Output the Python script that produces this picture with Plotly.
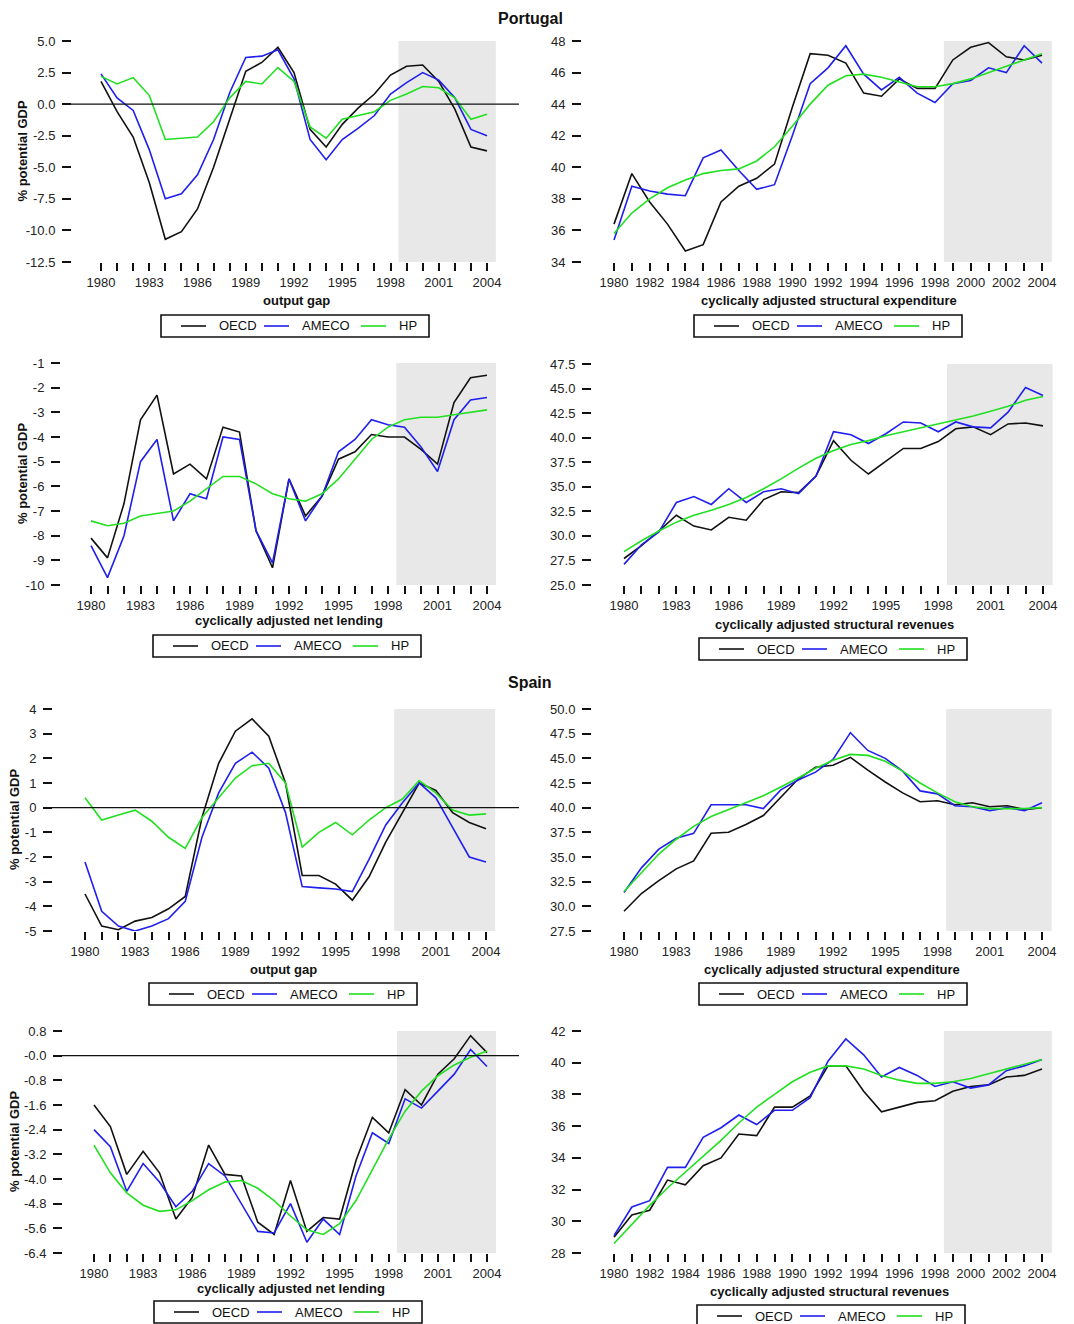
import plotly.graph_objects as go

W, H = 1074, 1324
OFF = 8  # page body margin in the browser

years = list(range(1980, 2005))

# Portugal
pt_gap_oecd = [1.8, -0.6, -2.6, -6.2, -10.7, -10.1, -8.3, -5.0, -1.2, 2.6, 3.3, 4.5, 2.5,
               -2.0, -3.4, -1.6, -0.3, 0.8, 2.3, 3.0, 3.1, 1.8, -0.4, -3.4, -3.7]
pt_gap_ameco = [2.4, 0.5, -0.5, -3.6, -7.5, -7.1, -5.6, -2.8, 0.9, 3.7, 3.8, 4.3, 2.0,
                -2.8, -4.4, -2.8, -1.9, -0.9, 0.8, 1.7, 2.5, 1.9, 0.5, -2.0, -2.5]
pt_gap_hp = [2.2, 1.6, 2.1, 0.7, -2.8, -2.7, -2.6, -1.4, 0.5, 1.8, 1.6, 2.9, 1.8,
             -1.8, -2.7, -1.2, -0.9, -0.6, 0.3, 0.8, 1.4, 1.3, 0.5, -1.2, -0.8]

pt_exp_oecd = [36.4, 39.6, 37.8, 36.4, 34.7, 35.1, 37.8, 38.8, 39.3, 40.2, 43.8, 47.2, 47.1,
               46.6, 44.7, 44.5, 45.6, 45.0, 45.0, 46.8, 47.6, 47.9, 47.0, 46.8, 47.1]
pt_exp_ameco = [35.4, 38.8, 38.5, 38.3, 38.2, 40.6, 41.1, 39.8, 38.6, 38.9, 42.0, 45.3, 46.3,
                47.7, 45.9, 44.9, 45.7, 44.7, 44.1, 45.3, 45.5, 46.3, 46.0, 47.7, 46.6]
pt_exp_hp = [35.8, 37.1, 38.0, 38.7, 39.2, 39.6, 39.8, 39.9, 40.4, 41.3, 42.6, 44.0, 45.2,
             45.8, 45.9, 45.7, 45.4, 45.1, 45.1, 45.3, 45.6, 46.0, 46.4, 46.8, 47.2]

pt_lend_oecd = [-8.1, -8.9, -6.7, -3.3, -2.3, -5.5, -5.1, -5.7, -3.6, -3.8, -7.8, -9.3, -5.7,
                -7.2, -6.4, -4.9, -4.6, -3.9, -4.0, -4.0, -4.5, -5.1, -2.6, -1.6, -1.5]
pt_lend_ameco = [-8.4, -9.7, -8.0, -5.0, -4.1, -7.4, -6.3, -6.5, -4.0, -4.1, -7.8, -9.1, -5.7,
                 -7.4, -6.4, -4.6, -4.1, -3.3, -3.5, -3.6, -4.4, -5.4, -3.3, -2.5, -2.4]
pt_lend_hp = [-7.4, -7.6, -7.5, -7.2, -7.1, -7.0, -6.6, -6.1, -5.6, -5.6, -5.9, -6.3, -6.5,
              -6.6, -6.3, -5.7, -4.9, -4.1, -3.6, -3.3, -3.2, -3.2, -3.1, -3.0, -2.9]

pt_rev_oecd = [27.7, 29.0, 30.5, 32.1, 31.0, 30.6, 31.9, 31.6, 33.7, 34.5, 34.4, 36.1, 39.7,
               37.7, 36.3, 37.6, 38.9, 38.9, 39.6, 40.9, 41.1, 40.3, 41.4, 41.5, 41.2]
pt_rev_ameco = [27.1, 29.1, 30.4, 33.4, 34.0, 33.2, 34.8, 33.4, 34.5, 34.8, 34.3, 36.1, 40.6,
                40.3, 39.4, 40.4, 41.6, 41.5, 40.6, 41.6, 41.1, 41.0, 42.6, 45.1, 44.3]
pt_rev_hp = [28.4, 29.5, 30.5, 31.4, 32.1, 32.6, 33.2, 33.9, 34.8, 35.8, 36.9, 37.9, 38.7,
             39.3, 39.7, 40.2, 40.6, 41.0, 41.4, 41.8, 42.2, 42.7, 43.2, 43.8, 44.2]

# Spain
es_gap_oecd = [-3.5, -4.8, -4.95, -4.6, -4.45, -4.1, -3.6, -0.4, 1.8, 3.1, 3.6, 2.9, 1.0,
               -2.75, -2.75, -3.1, -3.75, -2.8, -1.4, -0.2, 1.0, 0.7, -0.2, -0.6, -0.85]
es_gap_ameco = [-2.2, -4.2, -4.8, -5.0, -4.8, -4.5, -3.8, -1.2, 0.6, 1.8, 2.25, 1.6, -0.2,
                -3.2, -3.25, -3.3, -3.4, -2.1, -0.7, 0.2, 1.0, 0.4, -0.8, -2.0, -2.2]
es_gap_hp = [0.4, -0.5, -0.3, -0.1, -0.55, -1.2, -1.65, -0.4, 0.4, 1.2, 1.7, 1.8, 1.0,
             -1.6, -1.0, -0.6, -1.1, -0.5, 0.0, 0.35, 1.1, 0.6, -0.1, -0.3, -0.25]

es_exp_oecd = [29.5, 31.3, 32.6, 33.8, 34.6, 37.4, 37.5, 38.3, 39.2, 41.0, 42.9, 44.1, 44.3,
               45.1, 43.8, 42.6, 41.5, 40.6, 40.7, 40.3, 40.5, 40.1, 40.2, 39.8, 40.0]
es_exp_ameco = [31.4, 33.9, 35.8, 36.9, 37.4, 40.3, 40.3, 40.3, 39.9, 41.8, 42.8, 43.6, 44.9,
                47.6, 45.8, 45.0, 43.7, 41.7, 41.4, 40.2, 40.1, 39.7, 40.0, 39.7, 40.5]
es_exp_hp = [31.5, 33.4, 35.3, 36.8, 38.1, 39.1, 39.8, 40.5, 41.2, 42.1, 43.0, 44.0, 44.8,
             45.4, 45.3, 44.7, 43.7, 42.5, 41.5, 40.6, 40.1, 39.9, 39.9, 39.9, 40.0]

es_lend_oecd = [-1.6, -2.3, -3.85, -3.1, -3.8, -5.3, -4.6, -2.9, -3.85, -3.9, -5.4, -5.8, -4.05,
                -5.7, -5.25, -5.3, -3.4, -2.0, -2.5, -1.1, -1.6, -0.6, -0.1, 0.65, 0.1]
es_lend_ameco = [-2.4, -2.95, -4.4, -3.5, -4.1, -4.9, -4.4, -3.5, -3.9, -4.8, -5.7, -5.75, -4.8,
                 -6.05, -5.3, -5.8, -3.9, -2.5, -2.85, -1.4, -1.7, -1.15, -0.6, 0.2, -0.35]
es_lend_hp = [-2.9, -3.8, -4.45, -4.85, -5.05, -5.0, -4.7, -4.35, -4.1, -4.05, -4.3, -4.7, -5.2,
              -5.65, -5.8, -5.45, -4.7, -3.7, -2.7, -1.8, -1.15, -0.65, -0.3, -0.05, 0.15]

es_rev_oecd = [29.0, 30.4, 30.7, 32.6, 32.3, 33.5, 34.0, 35.5, 35.4, 37.2, 37.2, 37.9, 39.8,
               39.8, 38.2, 36.9, 37.2, 37.5, 37.6, 38.2, 38.5, 38.6, 39.1, 39.2, 39.6]
es_rev_ameco = [29.1, 30.9, 31.3, 33.4, 33.4, 35.3, 35.9, 36.7, 36.1, 37.0, 37.0, 37.8, 40.1,
                41.5, 40.5, 39.1, 39.7, 39.2, 38.5, 38.8, 38.4, 38.6, 39.5, 39.8, 40.2]
es_rev_hp = [28.6, 29.8, 31.0, 32.1, 33.1, 34.1, 35.1, 36.2, 37.2, 38.0, 38.8, 39.4, 39.8,
             39.8, 39.6, 39.2, 38.9, 38.7, 38.7, 38.8, 39.0, 39.3, 39.6, 39.9, 40.2]

# y tick values / labels
pt_gap_ticks = [-12.5, -10.0, -7.5, -5.0, -2.5, 0.0, 2.5, 5.0]
pt_exp_ticks = [34, 36, 38, 40, 42, 44, 46, 48]
pt_lend_ticks = [-10, -9, -8, -7, -6, -5, -4, -3, -2, -1]
pt_rev_ticks = [25.0, 27.5, 30.0, 32.5, 35.0, 37.5, 40.0, 42.5, 45.0, 47.5]
es_gap_ticks = [-5, -4, -3, -2, -1, 0, 1, 2, 3, 4]
es_exp_ticks = [27.5, 30.0, 32.5, 35.0, 37.5, 40.0, 42.5, 45.0, 47.5, 50.0]
es_lend_ticks = [-6.4, -5.6, -4.8, -4.0, -3.2, -2.4, -1.6, -0.8, 0.0, 0.8]
es_lend_ticktext = ["-6.4", "-5.6", "-4.8", "-4.0", "-3.2", "-2.4", "-1.6", "-0.8", "-0.0", "0.8"]
es_rev_ticks = [28, 30, 32, 34, 36, 38, 40, 42]

series_names = ["OECD", "AMECO", "HP"]
series_colors = ["#111111", "#1f1fee", "#20e020"]

FONT = "Liberation Sans, Arial, sans-serif"


def fx(p):
    return (p - OFF) / W


def fy(p):
    return 1 - (p - OFF) / H


# pixel geometry of each panel: left, right, x(1980), x(2004), top, bottom
panels = [
    dict(data=(pt_gap_oecd, pt_gap_ameco, pt_gap_hp), yr=(-12.5, 5), ticks=pt_gap_ticks, fmt="{:.1f}",
         step=3, xt="output gap", ylab=True, zero=True,
         box=(72, 522, 101, 487, 41, 262), xt_pos=(296, 301), leg=(161, 315)),
    dict(data=(pt_exp_oecd, pt_exp_ameco, pt_exp_hp), yr=(34, 48), ticks=pt_exp_ticks, fmt="{:.0f}",
         step=2, xt="cyclically adjusted structural expenditure", ylab=False, zero=False,
         box=(582, 1058, 614, 1042, 41, 262), xt_pos=(829, 300), leg=(694, 315)),
    dict(data=(pt_lend_oecd, pt_lend_ameco, pt_lend_hp), yr=(-10, -1), ticks=pt_lend_ticks, fmt="{:.0f}",
         step=3, xt="cyclically adjusted net lending", ylab=True, zero=False,
         box=(61, 522, 91, 487, 363, 585), xt_pos=(289, 620), leg=(153, 635)),
    dict(data=(pt_rev_oecd, pt_rev_ameco, pt_rev_hp), yr=(25, 47.5), ticks=pt_rev_ticks, fmt="{:.1f}",
         step=3, xt="cyclically adjusted structural revenues", ylab=False, zero=False,
         box=(592, 1058, 624, 1043, 364, 585), xt_pos=(834, 624), leg=(699, 638)),
    dict(data=(es_gap_oecd, es_gap_ameco, es_gap_hp), yr=(-5, 4), ticks=es_gap_ticks, fmt="{:.0f}",
         step=3, xt="output gap", ylab=True, zero=True,
         box=(53, 522, 85, 486, 709, 931), xt_pos=(283, 969), leg=(149, 983)),
    dict(data=(es_exp_oecd, es_exp_ameco, es_exp_hp), yr=(27.5, 50), ticks=es_exp_ticks, fmt="{:.1f}",
         step=3, xt="cyclically adjusted structural expenditure", ylab=False, zero=False,
         box=(592, 1058, 624, 1042, 709, 931), xt_pos=(832, 969), leg=(699, 983)),
    dict(data=(es_lend_oecd, es_lend_ameco, es_lend_hp), yr=(-6.4, 0.8), ticks=es_lend_ticks,
         text=es_lend_ticktext, step=3, xt="cyclically adjusted net lending", ylab=True, zero=True,
         box=(63, 522, 94, 487, 1031, 1253), xt_pos=(291, 1288), leg=(154, 1301)),
    dict(data=(es_rev_oecd, es_rev_ameco, es_rev_hp), yr=(28, 42), ticks=es_rev_ticks, fmt="{:.0f}",
         step=2, xt="cyclically adjusted structural revenues", ylab=False, zero=False,
         box=(582, 1058, 614, 1042, 1031, 1253), xt_pos=(829, 1291), leg=(697, 1305)),
]

# legend box layout (pixels relative to the box's top-left corner)
LEG_W, LEG_H = 268, 22
LEG_SAMPLE = [20, 103, 200]
LEG_TEXT = [56, 139, 236]
LEG_SAMPLE_LEN = 25

fig = go.Figure()
shapes = []
annotations = []
layout = dict(
    width=W, height=H,
    margin=dict(l=0, r=0, t=0, b=0, autoexpand=False),
    paper_bgcolor="white", plot_bgcolor="white",
    font=dict(family=FONT, size=13, color="#222222"),
    showlegend=False,
)

tick_font = dict(family=FONT, size=13, color="#222222")
label_font = dict(family=FONT, size=13, color="#111111")

for i, p in enumerate(panels, start=1):
    sfx = "" if i == 1 else str(i)
    left, right, x80, x04, top, bot = p["box"]
    ppy = (x04 - x80) / 24.0
    xmin = 1980 - (x80 - left) / ppy
    xmax = 2004 + (right - x04) / ppy

    for name, color, vals in zip(series_names, series_colors, p["data"]):
        fig.add_trace(go.Scatter(
            x=years, y=vals, mode="lines", name=name,
            line=dict(color=color, width=1.6),
            xaxis="x" + sfx, yaxis="y" + sfx,
        ))

    xtext = [str(y) if (y - 1980) % p["step"] == 0 else "" for y in years]
    ytext = p.get("text") or [p["fmt"].format(v) for v in p["ticks"]]

    layout["xaxis" + sfx] = dict(
        domain=[fx(left), min(fx(right), 1)], anchor="y" + sfx, range=[xmin, xmax],
        tickmode="array", tickvals=years, ticktext=xtext,
        ticks="outside", ticklen=8, tickwidth=1.7, tickcolor="#111111",
        showline=False, showgrid=False, zeroline=False, tickfont=tick_font,
    )
    layout["yaxis" + sfx] = dict(
        domain=[fy(bot), fy(top)], anchor="x" + sfx, range=list(p["yr"]),
        tickmode="array", tickvals=p["ticks"], ticktext=ytext,
        ticks="outside", ticklen=9, tickwidth=1.5, tickcolor="#111111",
        showline=False, showgrid=False, zeroline=False, tickfont=tick_font,
        ticklabelstandoff=4,
    )

    # shaded recent period
    shapes.append(dict(
        type="rect", xref="x" + sfx, yref="y" + sfx + " domain",
        x0=1998.5, x1=2004.55, y0=0, y1=1,
        fillcolor="#e8e8e8", line=dict(width=0), layer="below",
    ))
    if p["zero"]:
        shapes.append(dict(
            type="line", xref="paper", yref="y" + sfx,
            x0=fx(left - 9), x1=fx(519), y0=0, y1=0,
            line=dict(color="#111111", width=1.4),
        ))

    annotations.append(dict(
        text="<b>" + p["xt"] + "</b>", xref="paper", yref="paper",
        x=fx(p["xt_pos"][0]), y=fy(p["xt_pos"][1]), xanchor="center", yanchor="middle",
        showarrow=False, font=label_font,
    ))
    if p["ylab"]:
        annotations.append(dict(
            text="<b>% potential GDP</b>", xref="paper", yref="paper",
            x=fx(22 if i < 5 else 14), y=fy((top + bot) / 2), textangle=-90,
            xanchor="center", yanchor="middle", showarrow=False, font=label_font,
        ))

    # boxed legend below the panel
    lx, ly = p["leg"]
    shapes.append(dict(
        type="rect", xref="paper", yref="paper",
        x0=fx(lx), x1=fx(lx + LEG_W), y0=fy(ly + LEG_H), y1=fy(ly),
        line=dict(color="#111111", width=1.6), fillcolor="white",
    ))
    mid = ly + LEG_H / 2
    for k, (name, color) in enumerate(zip(series_names, series_colors)):
        shapes.append(dict(
            type="line", xref="paper", yref="paper",
            x0=fx(lx + LEG_SAMPLE[k]), x1=fx(lx + LEG_SAMPLE[k] + LEG_SAMPLE_LEN),
            y0=fy(mid), y1=fy(mid),
            line=dict(color=color, width=1.6),
        ))
        annotations.append(dict(
            text=name, xref="paper", yref="paper",
            x=fx(lx + LEG_TEXT[k]), y=fy(mid), xanchor="left", yanchor="middle",
            showarrow=False, font=dict(family=FONT, size=13, color="#111111"),
        ))

annotations.append(dict(text="<b>Portugal</b>", xref="paper", yref="paper", x=fx(530), y=1,
                        xanchor="center", yanchor="top", showarrow=False,
                        font=dict(family=FONT, size=16, color="#111111")))
annotations.append(dict(text="<b>Spain</b>", xref="paper", yref="paper", x=fx(530), y=fy(683),
                        xanchor="center", yanchor="middle", showarrow=False,
                        font=dict(family=FONT, size=16, color="#111111")))

layout["shapes"] = shapes
layout["annotations"] = annotations
fig.update_layout(**layout)

fig.write_html("out.html")
